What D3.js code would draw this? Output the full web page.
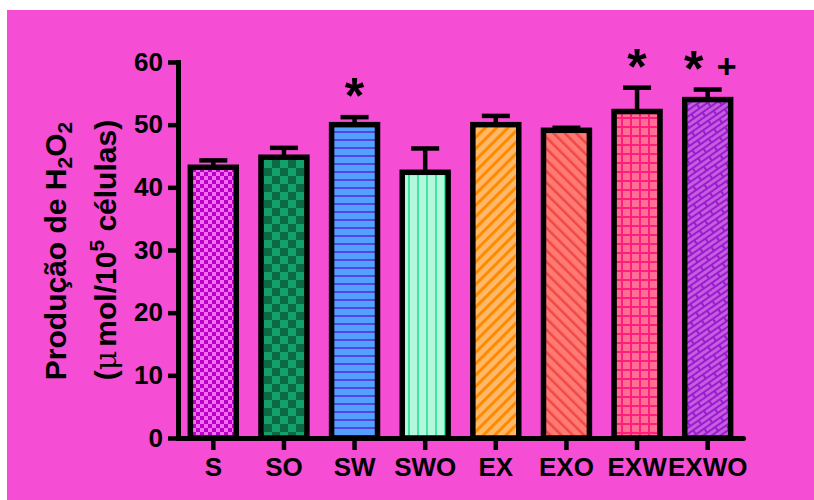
<!DOCTYPE html>
<html>
<head>
<meta charset="utf-8">
<script src="https://cdn.jsdelivr.net/npm/d3@7"></script>
<style>
  html, body { margin: 0; padding: 0; background: #ffffff; }
  svg { display: block; }
</style>
</head>
<body>
<svg id="chart" width="814" height="500"></svg>
<script>
// Groups and H2O2 production (mean and SEM)
const groups = ["S", "SO", "SW", "SWO", "EX", "EXO", "EXW", "EXWO"];
const means  = [43.2, 44.8, 50.0, 42.4, 50.0, 49.1, 52.1, 54.0];
const sems   = [1.1, 1.5, 1.2, 3.8, 1.4, 0.4, 3.8, 1.6];
const stars  = ["", "", "*", "", "", "", "*", "*"];
const pluses = ["", "", "", "", "", "", "", "+"];
const yTicks = [0, 10, 20, 30, 40, 50, 60];

const FONT = "'Liberation Sans', Arial, Helvetica, sans-serif";
const svg = d3.select("#chart");

// magenta panel
svg.append("rect")
  .attr("x", 7).attr("y", 10)
  .attr("width", 807).attr("height", 490)
  .attr("fill", "#f54dd3");

// fill patterns, one per group
const defs = svg.append("defs");

function pat(id, w, h, bg, draw, transform) {
  const p = defs.append("pattern")
    .attr("id", id)
    .attr("patternUnits", "userSpaceOnUse")
    .attr("width", w).attr("height", h);
  if (transform) p.attr("patternTransform", transform);
  p.append("rect").attr("width", w).attr("height", h).attr("fill", bg);
  draw(p);
}

// S: fine checker
pat("p0", 8, 8, "#f46cf0", p => {
  p.append("rect").attr("x", 0).attr("y", 0).attr("width", 4).attr("height", 4).attr("fill", "#b800c8");
  p.append("rect").attr("x", 4).attr("y", 4).attr("width", 4).attr("height", 4).attr("fill", "#b800c8");
});
// SO: coarse checker
pat("p1", 16, 16, "#13a06a", p => {
  p.append("rect").attr("x", 0).attr("y", 0).attr("width", 8).attr("height", 8).attr("fill", "#0b6a45");
  p.append("rect").attr("x", 8).attr("y", 8).attr("width", 8).attr("height", 8).attr("fill", "#0b6a45");
});
// SW: horizontal lines
pat("p2", 8, 8, "#55a0ff", p => {
  p.append("rect").attr("x", 0).attr("y", 3).attr("width", 8).attr("height", 2).attr("fill", "#5048e0");
});
// SWO: vertical lines
pat("p3", 9, 9, "#b5f7dc", p => {
  p.append("rect").attr("x", 3).attr("y", 0).attr("width", 2).attr("height", 9).attr("fill", "#3fe6a2");
});
// EX: diagonal stripes "/"
pat("p4", 8, 8, "#ffb868", p => {
  p.append("rect").attr("x", 0).attr("y", 0).attr("width", 3).attr("height", 8).attr("fill", "#ff8a00");
}, "rotate(45)");
// EXO: diagonal stripes "\"
pat("p5", 8, 8, "#ff7a72", p => {
  p.append("rect").attr("x", 0).attr("y", 0).attr("width", 2.5).attr("height", 8).attr("fill", "#f04848");
}, "rotate(-45)");
// EXW: grid
pat("p6", 9, 9, "#ff6e94", p => {
  p.append("rect").attr("x", 0).attr("y", 0).attr("width", 2).attr("height", 9).attr("fill", "#ff1e7e");
  p.append("rect").attr("x", 0).attr("y", 0).attr("width", 9).attr("height", 2).attr("fill", "#ff1e7e");
});
// EXWO: slanted bricks
pat("p7", 20, 10, "#c35ede", p => {
  const g = p.append("g").attr("stroke", "#9c1ad0").attr("stroke-width", 2);
  g.append("line").attr("x1", 0).attr("y1", 0).attr("x2", 20).attr("y2", 0);
  g.append("line").attr("x1", 0).attr("y1", 5).attr("x2", 20).attr("y2", 5);
  g.append("line").attr("x1", 0).attr("y1", 10).attr("x2", 20).attr("y2", 10);
  g.append("line").attr("x1", 1).attr("y1", 0).attr("x2", 1).attr("y2", 5);
  g.append("line").attr("x1", 11).attr("y1", 5).attr("x2", 11).attr("y2", 10);
}, "rotate(-35)");

// scales
const x = d3.scaleBand()
  .domain(groups)
  .range([178, 743])
  .paddingInner(0.35)
  .paddingOuter(0.175);

const y = d3.scaleLinear()
  .domain([0, 60])
  .range([438, 62]);

// bars
svg.append("g").selectAll("rect")
  .data(groups)
  .join("rect")
  .attr("x", d => x(d))
  .attr("width", x.bandwidth())
  .attr("y", (d, i) => y(means[i]))
  .attr("height", (d, i) => y(0) - y(means[i]))
  .attr("fill", (d, i) => `url(#p${i})`)
  .attr("stroke", "#000")
  .attr("stroke-width", 5.5);

// error bars (upper SEM)
const eb = svg.append("g").attr("stroke", "#000").attr("stroke-width", 4.5);
groups.forEach((g, i) => {
  const cx = x(g) + x.bandwidth() / 2;
  const top = y(means[i] + sems[i]);
  eb.append("line")
    .attr("x1", cx).attr("x2", cx)
    .attr("y1", y(means[i]) - 2).attr("y2", top);
  eb.append("line")
    .attr("x1", cx - 14).attr("x2", cx + 14)
    .attr("y1", top).attr("y2", top);
});

// significance marks
const marks = svg.append("g")
  .attr("font-family", FONT)
  .attr("font-weight", "bold")
  .attr("fill", "#000")
  .attr("text-anchor", "middle");
groups.forEach((g, i) => {
  const cx = x(g) + x.bandwidth() / 2;
  const capY = y(means[i] + sems[i]);
  const shift = pluses[i] ? -14 : 0;
  if (stars[i]) {
    marks.append("text")
      .attr("x", cx + shift)
      .attr("y", capY - 25 + 21)
      .attr("font-size", 50)
      .text(stars[i]);
  }
  if (pluses[i]) {
    marks.append("text")
      .attr("x", cx + 19)
      .attr("y", capY - 24 + 12)
      .attr("font-size", 34)
      .text(pluses[i]);
  }
});

// y axis
const yAxis = svg.append("g")
  .attr("transform", "translate(178,0)")
  .call(d3.axisLeft(y).tickValues(yTicks).tickSize(10).tickSizeOuter(0).tickPadding(5));
yAxis.select(".domain").attr("stroke-width", 5).attr("stroke-linecap", "square");
yAxis.selectAll(".tick line").attr("stroke-width", 4.5);
yAxis.selectAll(".tick text")
  .attr("font-family", FONT)
  .attr("font-weight", "bold")
  .attr("font-size", 26)
  .attr("fill", "#000");

// x axis
const xAxis = svg.append("g")
  .attr("transform", "translate(0,438)")
  .call(d3.axisBottom(x).tickSize(12).tickSizeOuter(0).tickPadding(8));
xAxis.select(".domain").attr("stroke-width", 5).attr("stroke-linecap", "round");
xAxis.selectAll(".tick line").attr("stroke-width", 4.5);
xAxis.selectAll(".tick text")
  .attr("font-family", FONT)
  .attr("font-weight", "bold")
  .attr("font-size", 26)
  .attr("fill", "#000");

// y-axis title (two lines)
const t1 = svg.append("text")
  .attr("transform", "translate(66,251) rotate(-90)")
  .attr("text-anchor", "middle")
  .attr("font-family", FONT)
  .attr("font-weight", "bold")
  .attr("font-size", 30)
  .attr("fill", "#000");
t1.append("tspan").text("Produção de H");
t1.append("tspan").attr("font-size", 21).attr("dy", 6).text("2");
t1.append("tspan").attr("dy", -6).text("O");
t1.append("tspan").attr("font-size", 21).attr("dy", 6).text("2");

const t2 = svg.append("text")
  .attr("transform", "translate(116,250) rotate(-90)")
  .attr("text-anchor", "middle")
  .attr("font-family", FONT)
  .attr("font-weight", "bold")
  .attr("font-size", 30)
  .attr("fill", "#000");
t2.append("tspan").text("(");
t2.append("tspan").attr("font-family", "'DejaVu Serif', serif").attr("font-weight", "normal").text("μ");
t2.append("tspan").attr("dx", 4).text("mol/10");
t2.append("tspan").attr("font-size", 21).attr("dy", -12).text("5");
t2.append("tspan").attr("dy", 12).text(" células)");
</script>
</body>
</html>
